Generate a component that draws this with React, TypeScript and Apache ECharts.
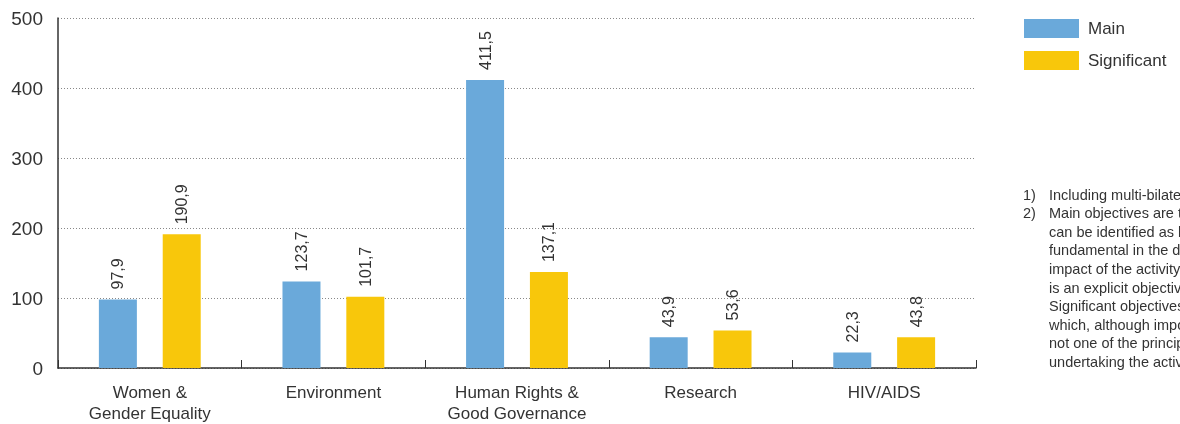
import React, { useEffect, useRef } from "react";
import * as echarts from "echarts";

const categories = ["Women &\nGender Equality", "Environment", "Human Rights &\nGood Governance", "Research", "HIV/AIDS"];
const mainValues = [97.9, 123.7, 411.5, 43.9, 22.3];
const significantValues = [190.9, 101.7, 137.1, 53.6, 43.8];
const seriesNames = ["Main", "Significant"];
const footnoteNumbers = ["1)", "2)"];
const footnoteLines = [
  "Including multi-bilateral aid",
  "Main objectives are those which",
  "can be identified as being",
  "fundamental in the design and",
  "impact of the activity and which",
  "is an explicit objective of the activity.",
  "Significant objectives are those",
  "which, although important, were",
  "not one of the principal reasons for",
  "undertaking the activity.",
];

const FONT = "'Liberation Sans', Arial, sans-serif";
const BLUE = "#6aa9da";
const YELLOW = "#f8c70b";

export default function App() {
  const ref = useRef<HTMLDivElement>(null);
  useEffect(() => {
    if (!ref.current) return;
    const chart = echarts.init(ref.current, null, { renderer: "svg" });
    const label = {
      show: true,
      position: "top",
      rotate: 90,
      align: "left",
      verticalAlign: "middle",
      distance: 10,
      fontSize: 16,
      fontFamily: FONT,
      color: "#333",
      formatter: (p: any) => String(p.value).replace(".", ","),
    };
    const lineTop = (i: number) => 187 + i * 18.6;
    chart.setOption({
      animation: false,
      textStyle: { fontFamily: FONT },
      grid: { left: 58, right: 204, top: 18, bottom: 55 },
      legend: {
        left: 1024,
        top: 19,
        padding: 0,
        orient: "vertical",
        itemWidth: 55,
        itemHeight: 19,
        itemGap: 13,
        icon: "rect",
        textStyle: { fontSize: 17, color: "#333", fontFamily: FONT, padding: [0, 0, 0, 4] },
        data: seriesNames,
      },
      xAxis: {
        type: "category",
        data: categories,
        axisLine: { lineStyle: { color: "#333", width: 1.5 } },
        axisTick: { show: true, inside: true, length: 8, lineStyle: { color: "#333" } },
        axisLabel: { fontSize: 17, color: "#333", lineHeight: 21, margin: 14, fontFamily: FONT, interval: 0 },
      },
      yAxis: {
        type: "value",
        min: 0,
        max: 500,
        interval: 100,
        axisLine: { show: true, lineStyle: { color: "#333", width: 1.5 } },
        axisTick: { show: false },
        axisLabel: { fontSize: 19, color: "#333", margin: 15, fontFamily: FONT },
        splitLine: { lineStyle: { color: "#888", type: [1, 2], width: 1 } },
      },
      series: [
        {
          name: seriesNames[0],
          type: "bar",
          data: mainValues,
          itemStyle: { color: BLUE },
          barWidth: 38,
          barGap: "68%",
          label,
        },
        {
          name: seriesNames[1],
          type: "bar",
          data: significantValues,
          itemStyle: { color: YELLOW },
          barWidth: 38,
          label,
        },
      ],
      graphic: [
        ...footnoteNumbers.map((t, i) => ({
          type: "text",
          left: 1023,
          top: lineTop(i),
          style: { text: t, fontSize: 14.5, fill: "#333", fontFamily: FONT },
        })),
        ...footnoteLines.map((t, i) => ({
          type: "text",
          left: 1049,
          top: lineTop(i),
          style: { text: t, fontSize: 14.5, fill: "#333", fontFamily: FONT },
        })),
      ],
    });
    return () => chart.dispose();
  }, []);
  return <div ref={ref} style={{ position: "fixed", left: 0, top: 0, width: 1180, height: 424 }} />;
}
